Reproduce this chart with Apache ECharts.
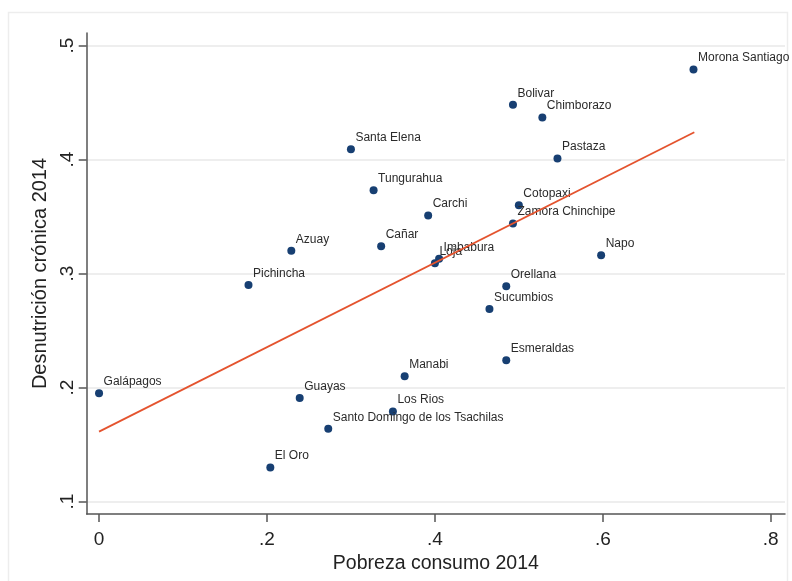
<!DOCTYPE html>
<html>
<head>
<meta charset="utf-8">
<script src="https://cdn.jsdelivr.net/npm/echarts@6/dist/echarts.min.js"></script>
<style>
  html, body { margin: 0; padding: 0; background: #ffffff; }
  #chart { width: 792px; height: 581px; }
</style>
</head>
<body>
<div id="chart"></div>
<script>
// Provinces of Ecuador: consumption poverty vs. chronic malnutrition, 2014
const provincias = [
  'Galápagos', 'Pichincha', 'Azuay', 'Santa Elena', 'Tungurahua', 'Cañar',
  'Carchi', 'Imbabura', 'Loja', 'Bolivar', 'Chimborazo', 'Morona Santiago',
  'Pastaza', 'Cotopaxi', 'Zamora Chinchipe', 'Napo', 'Orellana', 'Sucumbios',
  'Esmeraldas', 'Manabi', 'Guayas', 'Los Rios',
  'Santo Domingo de los Tsachilas', 'El Oro'
];
const pobreza = [
  0.000, 0.178, 0.229, 0.300, 0.327, 0.336,
  0.392, 0.405, 0.400, 0.493, 0.528, 0.708,
  0.546, 0.500, 0.493, 0.598, 0.485, 0.465,
  0.485, 0.364, 0.239, 0.350,
  0.273, 0.204
];
const desnutricion = [
  0.195, 0.290, 0.320, 0.409, 0.373, 0.324,
  0.351, 0.313, 0.309, 0.448, 0.437, 0.479,
  0.401, 0.360, 0.344, 0.316, 0.289, 0.269,
  0.224, 0.210, 0.191, 0.179,
  0.164, 0.130
];
// Fitted values at the ends of the observed poverty range
const ajusteX = [0.000, 0.709];
const ajusteY = [0.1614, 0.424];

const ticksX = [0, 0.2, 0.4, 0.6, 0.8];
const ticksY = [0.1, 0.2, 0.3, 0.4, 0.5];
const etiquetaTick = v => (v === 0 ? '0' : String(v).replace(/^0/, ''));

const puntos = provincias.map((n, i) => ({ name: n, value: [pobreza[i], desnutricion[i]] }));
const linea = ajusteX.map((x, i) => [x, ajusteY[i]]);

const fuente = '"Liberation Sans", Arial, Helvetica, sans-serif';
const chart = echarts.init(document.getElementById('chart'), null, { renderer: 'canvas' });

chart.setOption({
  animation: false,
  backgroundColor: '#ffffff',
  graphic: [{
    type: 'rect',
    shape: { x: 8.5, y: 12.5, width: 779, height: 600 },
    style: { fill: 'none', stroke: '#ededed', lineWidth: 1.5 },
    z: -10
  }],
  grid: { left: 86.7, top: 33, right: 7, bottom: 67, containLabel: false },
  xAxis: {
    type: 'value',
    min: -0.0147, max: 0.817,
    name: 'Pobreza consumo 2014',
    nameLocation: 'middle',
    nameGap: 33,
    nameTextStyle: { fontFamily: fuente, fontSize: 19.5, color: '#222' },
    axisLine: { show: true, onZero: false, lineStyle: { color: '#555', width: 1.5 } },
    axisTick: { show: true, length: 8, customValues: ticksX, lineStyle: { color: '#555', width: 1.5 } },
    axisLabel: {
      customValues: ticksX, margin: 16,
      fontFamily: fuente, fontSize: 19, color: '#222',
      formatter: etiquetaTick
    },
    splitLine: { show: false }
  },
  yAxis: {
    type: 'value',
    min: 0.0892, max: 0.511,
    name: 'Desnutrición crónica 2014',
    nameLocation: 'middle',
    nameGap: 34,
    nameTextStyle: { fontFamily: fuente, fontSize: 20, color: '#222' },
    axisLine: { show: true, onZero: false, lineStyle: { color: '#555', width: 1.5 } },
    axisTick: { show: true, length: 8, customValues: ticksY, lineStyle: { color: '#555', width: 1.5 } },
    axisLabel: {
      customValues: ticksY, margin: 9, rotate: 90,
      fontFamily: fuente, fontSize: 19, color: '#222',
      formatter: etiquetaTick
    },
    splitLine: { show: true, lineStyle: { color: '#e9e9e9', width: 1.5 } }
  },
  series: [
    {
      type: 'scatter',
      data: puntos,
      symbol: 'circle',
      symbolSize: 8,
      itemStyle: { color: '#173f72', opacity: 1 },
      z: 2,
      label: {
        show: true,
        formatter: p => p.name,
        position: [8.5, -7.5],
        align: 'left',
        verticalAlign: 'middle',
        fontFamily: fuente,
        fontSize: 12,
        color: '#2b2b2b'
      },
      labelLayout: { hideOverlap: false }
    },
    {
      type: 'line',
      data: linea,
      symbol: 'none',
      lineStyle: { color: '#e4532e', width: 1.8 },
      z: 3,
      silent: true
    }
  ]
});
</script>
</body>
</html>
